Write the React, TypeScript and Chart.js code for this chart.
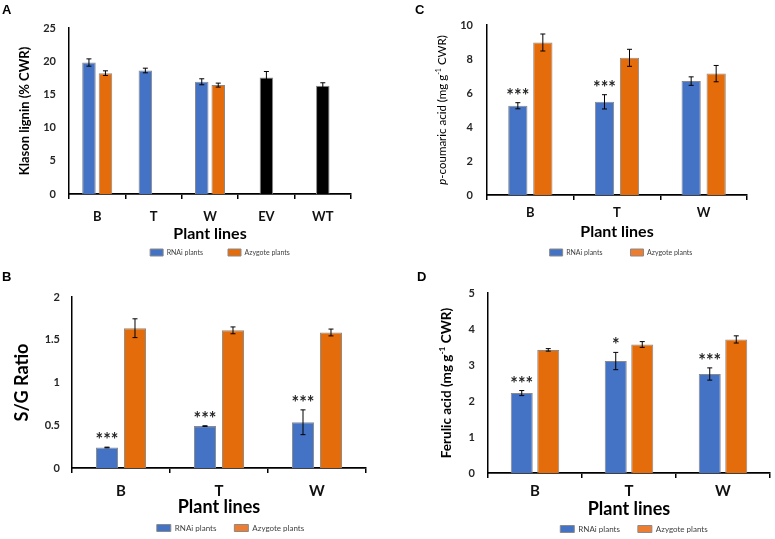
import React, { useEffect, useRef } from 'react';
import { Chart, registerables } from 'chart.js';

Chart.register(...registerables);
const FAMILY = 'Lato, "Open Sans", sans-serif';
Chart.defaults.font.family = FAMILY;
Chart.defaults.color = '#262626';

// ---------------- data ----------------
const seriesNames = ['RNAi plants', 'Azygote plants'];

const linesA = ['B', 'T', 'W', 'EV', 'WT'];
const klasonRNAi = [19.8, 18.6, 16.9, null, null];
const klasonRNAiErr = [0.55, 0.35, 0.45, 0, 0];
const klasonAzygote = [18.2, null, 16.4, null, null];
const klasonAzygoteErr = [0.35, 0, 0.3, 0, 0];
const klasonControl = [null, null, null, 17.55, 16.3];
const klasonControlErr = [0, 0, 0, 0.9, 0.45];

const linesBCD = ['B', 'T', 'W'];

const sgRNAi = [0.24, 0.49, 0.535];
const sgRNAiErr = [0.004, 0.004, 0.145];
const sgAzygote = [1.635, 1.61, 1.585];
const sgAzygoteErr = [0.11, 0.04, 0.04];
const sgStars = ['***', '***', '***'];

const pcaRNAi = [5.25, 5.48, 6.7];
const pcaRNAiErr = [0.18, 0.42, 0.25];
const pcaAzygote = [8.97, 8.07, 7.14];
const pcaAzygoteErr = [0.5, 0.5, 0.48];
const pcaStars = ['***', '***', ''];

const faRNAi = [2.22, 3.11, 2.75];
const faRNAiErr = [0.07, 0.24, 0.17];
const faAzygote = [3.42, 3.57, 3.71];
const faAzygoteErr = [0.035, 0.08, 0.1];
const faStars = ['***', '*', '***'];

// ---------------- styles ----------------
const BLUE = '#4472C4';
const ORANGE = '#E46C0A';
const ORANGE_LIGHT = '#ED7D31';
const BAR_EDGE = '#8a8a8a';

function barSet(label: string, data: any[], errors: number[], color: string, stars?: string[], extra?: any) {
  return { label, data, errors, stars, backgroundColor: color, borderColor: BAR_EDGE, borderWidth: 1, ...(extra || {}) };
}

// ---------------- plugins ----------------
const errorBars = {
  id: 'errorBars',
  afterDatasetsDraw(chart: any, _a: any, opts: any) {
    const { ctx } = chart;
    const yScale = chart.scales.y;
    chart.data.datasets.forEach((ds: any, di: number) => {
      const meta = chart.getDatasetMeta(di);
      meta.data.forEach((bar: any, i: number) => {
        const v = ds.data[i];
        if (v === null || v === undefined) return;
        const e = ds.errors ? ds.errors[i] : 0;
        const x = bar.x;
        const yt = yScale.getPixelForValue(v + e);
        const yb = yScale.getPixelForValue(v - e);
        const cap = 2.5;
        ctx.save();
        ctx.strokeStyle = '#000';
        ctx.lineWidth = 1;
        if (e > 0) {
          ctx.beginPath();
          ctx.moveTo(x, yt); ctx.lineTo(x, yb);
          ctx.moveTo(x - cap, yt); ctx.lineTo(x + cap, yt);
          ctx.moveTo(x - cap, yb); ctx.lineTo(x + cap, yb);
          ctx.stroke();
        }
        const s = ds.stars ? ds.stars[i] : '';
        if (s) {
          ctx.font = `bold ${opts.starSize}px ${FAMILY}`;
          ctx.fillStyle = '#262626';
          ctx.textAlign = 'center';
          ctx.textBaseline = 'alphabetic';
          ctx.fillText(s, x, yt - opts.starGap);
        }
        ctx.restore();
      });
    });
  },
};

const richYTitle = {
  id: 'richYTitle',
  afterDraw(chart: any, _a: any, opts: any) {
    if (!opts || !opts.parts || !opts.parts.length) return;
    const { ctx, chartArea } = chart;
    const parts = opts.parts;
    const size = opts.size;
    const weight = opts.weight || 'normal';
    const fontOf = (p: any) => `${p.italic ? 'italic ' : ''}${weight} ${p.sup ? size * 0.62 : size}px ${FAMILY}`;
    ctx.save();
    ctx.translate(opts.x, (chartArea.top + chartArea.bottom) / 2);
    ctx.rotate(-Math.PI / 2);
    ctx.textBaseline = 'alphabetic';
    ctx.textAlign = 'left';
    ctx.fillStyle = '#000';
    let total = 0;
    const widths = parts.map((p: any) => {
      ctx.font = fontOf(p);
      const w = ctx.measureText(p.text).width;
      total += w;
      return w;
    });
    let x = -total / 2;
    const base = size * 0.36;
    parts.forEach((p: any, i: number) => {
      ctx.font = fontOf(p);
      ctx.fillText(p.text, x, p.sup ? base - size * 0.42 : base);
      x += widths[i];
    });
    ctx.restore();
  },
};

// ---------------- panels ----------------
const specs: any[] = [
  {
    key: 'A', left: 0, top: 0, width: 440, height: 266,
    padTop: 28, yAxisW: 69, rightW: 89, xAxisH: 30,
    labels: linesA,
    datasets: [
      barSet(seriesNames[0], klasonRNAi, klasonRNAiErr, BLUE),
      barSet(seriesNames[1], klasonAzygote, klasonAzygoteErr, ORANGE),
      barSet('Control', klasonControl, klasonControlErr, '#000000', undefined, { grouped: false, barPercentage: 0.41 }),
    ],
    yMax: 25, yStep: 5, yTickPad: 13, yTickSize: 11,
    yTitle: { text: 'Klason lignin (% CWR)', size: 13, pad: 17 },
    xTickSize: 13, xTickPad: 10, xTitleSize: 16, xTitlePad: -19,
    legendSize: 7, legendPad: 25, legendBoxW: 13, legendOrange: ORANGE,
    catPct: 0.585, barPct: 0.82, starSize: 18,
  },
  {
    key: 'C', left: 400, top: 0, width: 442, height: 266,
    padTop: 25, yAxisW: 87, rightW: 95, xAxisH: 26,
    labels: linesBCD,
    datasets: [
      barSet(seriesNames[0], pcaRNAi, pcaRNAiErr, BLUE, pcaStars),
      barSet(seriesNames[1], pcaAzygote, pcaAzygoteErr, ORANGE),
    ],
    yMax: 10, yStep: 2, yTickPad: 14, yTickSize: 11,
    richTitle: {
      x: 42, size: 11.5, weight: 'normal',
      parts: [
        { text: 'p', italic: true },
        { text: '-coumaric acid (mg g' },
        { text: '-1', sup: true },
        { text: ' CWR)' },
      ],
    },
    xTickSize: 13, xTickPad: 5, xTitleSize: 16, xTitlePad: -20,
    legendSize: 7, legendPad: 28, legendBoxW: 13, legendOrange: ORANGE_LIGHT,
    catPct: 0.577, barPct: 0.77, starSize: 18,
  },
  {
    key: 'B', left: 0, top: 260, width: 461, height: 282,
    padTop: 37, yAxisW: 72, rightW: 95, xAxisH: 38,
    labels: linesBCD,
    datasets: [
      barSet(seriesNames[0], sgRNAi, sgRNAiErr, BLUE, sgStars),
      barSet(seriesNames[1], sgAzygote, sgAzygoteErr, ORANGE),
    ],
    yMax: 2, yStep: 0.5, yTickPad: 12, yTickSize: 11,
    yTitle: { text: 'S/G Ratio', size: 18, pad: 11 },
    xTickSize: 15, xTickPad: 9, xTitleSize: 18, xTitlePad: -12,
    legendSize: 8, legendPad: 18, legendBoxW: 14, legendOrange: ORANGE_LIGHT,
    catPct: 0.571, barPct: 0.79, starSize: 18,
  },
  {
    key: 'D', left: 400, top: 260, width: 468, height: 283,
    padTop: 33, yAxisW: 88, rightW: 98, xAxisH: 34,
    labels: linesBCD,
    datasets: [
      barSet(seriesNames[0], faRNAi, faRNAiErr, BLUE, faStars),
      barSet(seriesNames[1], faAzygote, faAzygoteErr, ORANGE),
    ],
    yMax: 5, yStep: 1, yTickPad: 13, yTickSize: 11,
    richTitle: {
      x: 46, size: 13.5, weight: 'bold',
      parts: [
        { text: 'Ferulic acid (mg g' },
        { text: '-1', sup: true },
        { text: ' CWR)' },
      ],
    },
    xTickSize: 15, xTickPad: 4, xTitleSize: 18, xTitlePad: -13,
    legendSize: 8, legendPad: 18, legendBoxW: 14, legendOrange: ORANGE_LIGHT,
    catPct: 0.564, barPct: 0.83, starSize: 18,
  },
];

const letters = [
  { text: 'A', x: 2, y: 3 },
  { text: 'C', x: 415, y: 3 },
  { text: 'B', x: 2, y: 270 },
  { text: 'D', x: 417, y: 270 },
];

function buildConfig(s: any): any {
  return {
    type: 'bar',
    data: { labels: s.labels, datasets: s.datasets },
    options: {
      responsive: false,
      animation: false,
      layout: { padding: { top: s.padTop, left: 0, right: 0, bottom: 0 } },
      datasets: { bar: { categoryPercentage: s.catPct, barPercentage: s.barPct } },
      plugins: {
        tooltip: { enabled: false },
        title: { display: false },
        legend: {
          display: true,
          position: 'bottom',
          labels: {
            font: { size: s.legendSize },
            color: '#404040',
            boxWidth: s.legendBoxW,
            boxHeight: 7,
            padding: s.legendPad,
            generateLabels: (chart: any) => {
              const items = (Chart.defaults.plugins.legend.labels as any).generateLabels(chart);
              return items
                .filter((it: any) => it.datasetIndex < 2)
                .map((it: any) => (it.datasetIndex === 1 ? { ...it, fillStyle: s.legendOrange } : it));
            },
          },
        },
        errorBars: { starSize: s.starSize, starGap: 1 },
        richYTitle: s.richTitle || { parts: [] },
      },
      scales: {
        x: {
          offset: true,
          grid: {
            display: true, drawOnChartArea: false, drawTicks: true, tickLength: 5,
            color: '#000', lineWidth: 1.5, offset: true,
          },
          border: { display: true, color: '#000', width: 1.8 },
          ticks: { font: { size: s.xTickSize, weight: 'bold' }, color: '#111', padding: s.xTickPad },
          title: {
            display: true, text: 'Plant lines', color: '#000',
            font: { size: s.xTitleSize, weight: 'bold' },
            padding: { top: 0, bottom: s.xTitlePad },
          },
          afterFit: (sc: any) => { sc.height = s.xAxisH; },
        },
        y: {
          position: 'left',
          min: 0,
          max: s.yMax,
          ticks: {
            stepSize: s.yStep,
            font: { size: s.yTickSize, weight: 'bold' },
            color: '#262626',
            padding: s.yTickPad,
            callback: (v: any) => String(Number(v)),
          },
          grid: { display: false, drawTicks: false },
          border: { display: true, color: '#000', width: 1.5 },
          title: s.yTitle
            ? {
                display: true, text: s.yTitle.text, color: '#000',
                font: { size: s.yTitle.size, weight: 'bold' },
                padding: { top: s.yTitle.pad, bottom: 0 },
              }
            : { display: false },
          afterFit: (sc: any) => { sc.width = s.yAxisW; },
        },
        yR: {
          position: 'right',
          display: true,
          ticks: { display: false },
          grid: { display: false, drawTicks: false },
          border: { display: false },
          afterFit: (sc: any) => { sc.width = s.rightW; },
        },
      },
    },
    plugins: [errorBars, richYTitle],
  };
}

function Panel({ spec }: { spec: any }) {
  const ref = useRef<HTMLCanvasElement>(null);
  useEffect(() => {
    const chart = new Chart(ref.current as HTMLCanvasElement, buildConfig(spec));
    return () => chart.destroy();
  }, [spec]);
  return (
    <canvas
      ref={ref}
      width={spec.width}
      height={spec.height}
      style={{ position: 'absolute', left: spec.left, top: spec.top, width: spec.width, height: spec.height }}
    />
  );
}

export default function App() {
  return (
    <div style={{ position: 'fixed', left: 0, top: 0, width: 775, height: 539, overflow: 'hidden', background: '#fff' }}>
      {specs.map((s) => (
        <Panel key={s.key} spec={s} />
      ))}
      {letters.map((l) => (
        <div
          key={l.text}
          style={{
            position: 'absolute', left: l.x, top: l.y, fontFamily: '"Liberation Sans", Arial, sans-serif',
            fontWeight: 'bold', fontSize: 13, lineHeight: '13px', color: '#000',
          }}
        >
          {l.text}
        </div>
      ))}
    </div>
  );
}
